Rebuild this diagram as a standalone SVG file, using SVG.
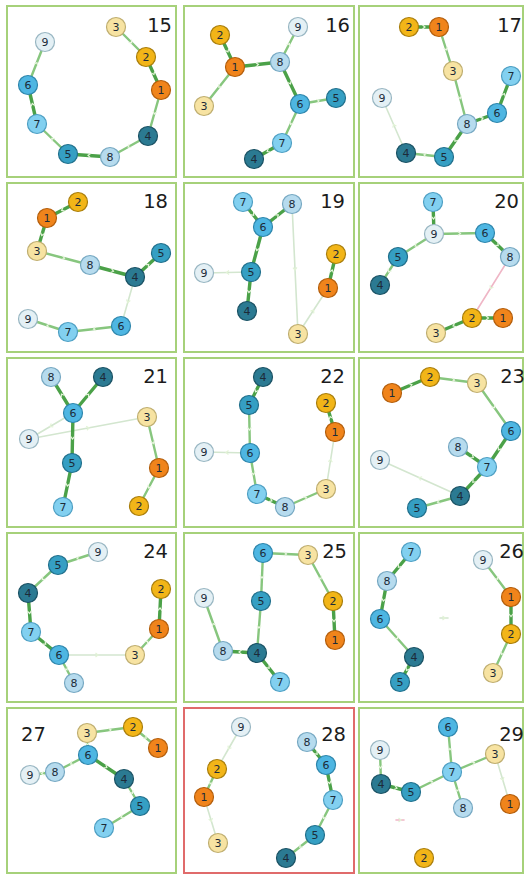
<svg xmlns="http://www.w3.org/2000/svg" width="526" height="875" viewBox="0 0 526 875">
<defs>
<style>
.panel{fill:#ffffff;stroke:#a6d17a;stroke-width:2}
.panel.bad{stroke:#e06b6b}
.num{font-family:"DejaVu Sans","Liberation Sans",sans-serif;font-size:19.5px;fill:#1c1c1c;text-anchor:end}
.num.l{text-anchor:start}
polyline{fill:none;stroke-linecap:round;marker-mid:url(#ch)}
.t{stroke:#3c9a39;stroke-width:3.4;opacity:.92}
.m{stroke:#6dba62;stroke-width:2.4;opacity:.82}
.f{stroke:#d3e6cf;stroke-width:1.6}
.p{stroke:#efb6c6;stroke-width:1.6}
.n circle{stroke-width:1.2}
.n text{font-family:"DejaVu Sans","Liberation Sans",sans-serif;font-size:11px;fill:#1d2b38;text-anchor:middle}
.c1 circle{fill:#f0841b;stroke:#b35e0c}
.c2 circle{fill:#f2b518;stroke:#a97e0c}
.c3 circle{fill:#f7e3a2;stroke:#bfae70}
.c4 circle{fill:#2b7a92;stroke:#1b5264}
.c5 circle{fill:#359fc3;stroke:#21708c}
.c6 circle{fill:#4eb6e2;stroke:#2e86ac}
.c7 circle{fill:#82d0f0;stroke:#4e9fc3}
.c8 circle{fill:#b6dbee;stroke:#76a8c2}
.c9 circle{fill:#e4f0f5;stroke:#98b6c2}
</style>
<marker id="ch" viewBox="0 0 6 6" refX="3" refY="3" markerWidth="6" markerHeight="6" orient="auto" markerUnits="userSpaceOnUse">
<path d="M1.5,1 L4,3 L1.5,5" fill="none" stroke="#e2f3d6" stroke-width="1.2"/>
</marker>
</defs>

<g id="panels">
<rect class="panel" x="7" y="6" width="169" height="171"/>
<rect class="panel" x="184" y="6" width="170" height="171"/>
<rect class="panel" x="359" y="6" width="164" height="171"/>
<rect class="panel" x="7" y="183" width="169" height="169"/>
<rect class="panel" x="184" y="183" width="170" height="169"/>
<rect class="panel" x="359" y="183" width="164" height="169"/>
<rect class="panel" x="7" y="358" width="169" height="169"/>
<rect class="panel" x="184" y="358" width="170" height="169"/>
<rect class="panel" x="359" y="358" width="164" height="169"/>
<rect class="panel" x="7" y="533" width="169" height="169"/>
<rect class="panel" x="184" y="533" width="170" height="169"/>
<rect class="panel" x="359" y="533" width="164" height="169"/>
<rect class="panel" x="7" y="708" width="169" height="165"/>
<rect class="panel bad" x="184" y="708" width="170" height="165"/>
<rect class="panel" x="359" y="708" width="164" height="165"/>
</g>

<g id="labels">
<text class="num" x="172" y="32">15</text>
<text class="num" x="350" y="32">16</text>
<text class="num" x="522" y="32">17</text>
<text class="num" x="168" y="208">18</text>
<text class="num" x="345" y="208">19</text>
<text class="num" x="519" y="208">20</text>
<text class="num" x="168" y="383">21</text>
<text class="num" x="345" y="383">22</text>
<text class="num" x="525" y="383">23</text>
<text class="num" x="168" y="558">24</text>
<text class="num" x="347" y="558">25</text>
<text class="num" x="524" y="558">26</text>
<text class="num l" x="21" y="741">27</text>
<text class="num" x="346" y="741">28</text>
<text class="num" x="524" y="741">29</text>
</g>

<g id="connectors">
<g id="edges-15">
<polyline class="m" points="116,27 131,42 146,57"/>
<polyline class="t" points="146,57 153.5,73.5 161,90"/>
<polyline class="m" points="161,90 154.5,113 148,136"/>
<polyline class="m" points="148,136 129,146.5 110,157"/>
<polyline class="t" points="110,157 89,155.5 68,154"/>
<polyline class="m" points="68,154 52.5,139 37,124"/>
<polyline class="t" points="37,124 32.5,104.5 28,85"/>
<polyline class="m" points="28,85 36.5,63.5 45,42"/>
</g>
<g id="edges-16">
<polyline class="t" points="220,35 227.5,51 235,67"/>
<polyline class="m" points="235,67 219.5,86.5 204,106"/>
<polyline class="t" points="235,67 257.5,64.5 280,62"/>
<polyline class="m" points="280,62 289,44.5 298,27"/>
<polyline class="t" points="280,62 290,83 300,104"/>
<polyline class="m" points="300,104 318,101 336,98"/>
<polyline class="m" points="300,104 291,123.5 282,143"/>
<polyline class="t" points="282,143 268,151 254,159"/>
</g>
<g id="edges-17">
<polyline class="t" points="409,27 424,27 439,27"/>
<polyline class="m" points="439,27 446,49 453,71"/>
<polyline class="m" points="453,71 460,97.5 467,124"/>
<polyline class="t" points="467,124 482,118.5 497,113"/>
<polyline class="t" points="497,113 504,94.5 511,76"/>
<polyline class="t" points="467,124 455.5,140.5 444,157"/>
<polyline class="m" points="444,157 425,155 406,153"/>
<polyline class="f" points="406,153 394,125.5 382,98"/>
</g>
<g id="edges-18">
<polyline class="t" points="78,202 62.5,210 47,218"/>
<polyline class="t" points="47,218 42,234.5 37,251"/>
<polyline class="m" points="37,251 63.5,258 90,265"/>
<polyline class="t" points="90,265 112.5,271 135,277"/>
<polyline class="t" points="135,277 148,265 161,253"/>
<polyline class="f" points="135,277 128,301.5 121,326"/>
<polyline class="m" points="121,326 94.5,329 68,332"/>
<polyline class="m" points="68,332 48,325.5 28,319"/>
</g>
<g id="edges-19">
<polyline class="t" points="243,202 253,214.5 263,227"/>
<polyline class="t" points="263,227 277.5,215.5 292,204"/>
<polyline class="t" points="263,227 257,249.5 251,272"/>
<polyline class="f" points="251,272 227.5,272.5 204,273"/>
<polyline class="t" points="251,272 249,291.5 247,311"/>
<polyline class="f" points="292,204 295,269 298,334"/>
<polyline class="f" points="298,334 313,311 328,288"/>
<polyline class="t" points="328,288 332,271 336,254"/>
</g>
<g id="edges-20">
<polyline class="t" points="433,202 433.5,218 434,234"/>
<polyline class="m" points="434,234 459.5,233.5 485,233"/>
<polyline class="t" points="485,233 497.5,245 510,257"/>
<polyline class="m" points="434,234 416,245.5 398,257"/>
<polyline class="m" points="398,257 389,271 380,285"/>
<polyline class="p" points="510,257 491,287.5 472,318"/>
<polyline class="t" points="472,318 487.5,318 503,318"/>
<polyline class="t" points="472,318 454,325.5 436,333"/>
</g>
<g id="edges-21">
<polyline class="t" points="73,413 62,395 51,377"/>
<polyline class="t" points="73,413 88,395 103,377"/>
<polyline class="f" points="73,413 51,426 29,439"/>
<polyline class="f" points="29,439 88,428 147,417"/>
<polyline class="t" points="73,413 72.5,438 72,463"/>
<polyline class="t" points="72,463 67.5,485 63,507"/>
<polyline class="m" points="147,417 153,442.5 159,468"/>
<polyline class="m" points="159,468 149,487 139,506"/>
</g>
<g id="edges-22">
<polyline class="t" points="263,377 256,391 249,405"/>
<polyline class="m" points="249,405 249.5,429 250,453"/>
<polyline class="f" points="250,453 227,452.5 204,452"/>
<polyline class="m" points="250,453 253.5,473.5 257,494"/>
<polyline class="t" points="257,494 271,500.5 285,507"/>
<polyline class="m" points="285,507 305.5,498 326,489"/>
<polyline class="f" points="326,489 330.5,460.5 335,432"/>
<polyline class="t" points="335,432 330.5,417.5 326,403"/>
</g>
<g id="edges-23">
<polyline class="t" points="392,393 411,385 430,377"/>
<polyline class="m" points="430,377 453.5,380 477,383"/>
<polyline class="m" points="477,383 494,407 511,431"/>
<polyline class="t" points="511,431 499,449 487,467"/>
<polyline class="t" points="458,447 472.5,457 487,467"/>
<polyline class="t" points="487,467 473.5,481.5 460,496"/>
<polyline class="m" points="460,496 438.5,502 417,508"/>
<polyline class="f" points="460,496 420,478 380,460"/>
</g>
<g id="edges-24">
<polyline class="m" points="98,552 78,558.5 58,565"/>
<polyline class="m" points="58,565 43,579 28,593"/>
<polyline class="t" points="28,593 29.5,612.5 31,632"/>
<polyline class="t" points="31,632 45,643.5 59,655"/>
<polyline class="m" points="59,655 66.5,669 74,683"/>
<polyline class="f" points="59,655 97,655 135,655"/>
<polyline class="m" points="135,655 147,642 159,629"/>
<polyline class="t" points="159,629 160,609 161,589"/>
</g>
<g id="edges-25">
<polyline class="m" points="263,553 285.5,554 308,555"/>
<polyline class="m" points="308,555 320.5,578 333,601"/>
<polyline class="t" points="333,601 334,620.5 335,640"/>
<polyline class="m" points="263,553 262,577 261,601"/>
<polyline class="m" points="261,601 259,627 257,653"/>
<polyline class="t" points="257,653 240,652 223,651"/>
<polyline class="m" points="223,651 213.5,624.5 204,598"/>
<polyline class="t" points="257,653 268.5,667.5 280,682"/>
</g>
<g id="edges-26">
<polyline class="t" points="411,552 399,566.5 387,581"/>
<polyline class="t" points="387,581 383.5,600 380,619"/>
<polyline class="m" points="380,619 397,638 414,657"/>
<polyline class="t" points="414,657 407,669.5 400,682"/>
<polyline class="m" points="483,560 497,578.5 511,597"/>
<polyline class="t" points="511,597 511,615.5 511,634"/>
<polyline class="m" points="511,634 502,653.5 493,673"/>
<polyline class="f" points="440,618 444,618 448,618"/>
</g>
<g id="edges-27">
<polyline class="m" points="87,733 110,730 133,727"/>
<polyline class="m" points="133,727 145.5,737.5 158,748"/>
<polyline class="m" points="87,733 87.5,744 88,755"/>
<polyline class="m" points="88,755 71.5,763.5 55,772"/>
<polyline class="m" points="55,772 42.5,773.5 30,775"/>
<polyline class="t" points="88,755 106,767 124,779"/>
<polyline class="m" points="124,779 132,792.5 140,806"/>
<polyline class="m" points="140,806 122,817 104,828"/>
</g>
<g id="edges-28">
<polyline class="f" points="241,727 229,748 217,769"/>
<polyline class="m" points="217,769 210.5,783 204,797"/>
<polyline class="f" points="204,797 211,820 218,843"/>
<polyline class="t" points="307,742 316.5,753.5 326,765"/>
<polyline class="t" points="326,765 329.5,782.5 333,800"/>
<polyline class="m" points="333,800 324,817.5 315,835"/>
<polyline class="m" points="315,835 300.5,846.5 286,858"/>
</g>
<g id="edges-29">
<polyline class="m" points="380,750 380.5,767 381,784"/>
<polyline class="t" points="381,784 396,788 411,792"/>
<polyline class="m" points="411,792 431.5,782 452,772"/>
<polyline class="m" points="452,772 450,749.5 448,727"/>
<polyline class="m" points="452,772 457.5,790 463,808"/>
<polyline class="m" points="452,772 473.5,763 495,754"/>
<polyline class="f" points="495,754 502.5,779 510,804"/>
<polyline class="p" points="396,820 400,820 404,820"/>
</g>
</g>

<g id="nodes">
<g id="g15">
<g id="n15-1" class="n c1"><circle cx="161" cy="90" r="9.5"/><text x="161" y="94">1</text></g>
<g id="n15-2" class="n c2"><circle cx="146" cy="57" r="9.5"/><text x="146" y="61">2</text></g>
<g id="n15-3" class="n c3"><circle cx="116" cy="27" r="9.5"/><text x="116" y="31">3</text></g>
<g id="n15-4" class="n c4"><circle cx="148" cy="136" r="9.5"/><text x="148" y="140">4</text></g>
<g id="n15-5" class="n c5"><circle cx="68" cy="154" r="9.5"/><text x="68" y="158">5</text></g>
<g id="n15-6" class="n c6"><circle cx="28" cy="85" r="9.5"/><text x="28" y="89">6</text></g>
<g id="n15-7" class="n c7"><circle cx="37" cy="124" r="9.5"/><text x="37" y="128">7</text></g>
<g id="n15-8" class="n c8"><circle cx="110" cy="157" r="9.5"/><text x="110" y="161">8</text></g>
<g id="n15-9" class="n c9"><circle cx="45" cy="42" r="9.5"/><text x="45" y="46">9</text></g>
</g>
<g id="g16">
<g id="n16-1" class="n c1"><circle cx="235" cy="67" r="9.5"/><text x="235" y="71">1</text></g>
<g id="n16-2" class="n c2"><circle cx="220" cy="35" r="9.5"/><text x="220" y="39">2</text></g>
<g id="n16-3" class="n c3"><circle cx="204" cy="106" r="9.5"/><text x="204" y="110">3</text></g>
<g id="n16-4" class="n c4"><circle cx="254" cy="159" r="9.5"/><text x="254" y="163">4</text></g>
<g id="n16-5" class="n c5"><circle cx="336" cy="98" r="9.5"/><text x="336" y="102">5</text></g>
<g id="n16-6" class="n c6"><circle cx="300" cy="104" r="9.5"/><text x="300" y="108">6</text></g>
<g id="n16-7" class="n c7"><circle cx="282" cy="143" r="9.5"/><text x="282" y="147">7</text></g>
<g id="n16-8" class="n c8"><circle cx="280" cy="62" r="9.5"/><text x="280" y="66">8</text></g>
<g id="n16-9" class="n c9"><circle cx="298" cy="27" r="9.5"/><text x="298" y="31">9</text></g>
</g>
<g id="g17">
<g id="n17-1" class="n c1"><circle cx="439" cy="27" r="9.5"/><text x="439" y="31">1</text></g>
<g id="n17-2" class="n c2"><circle cx="409" cy="27" r="9.5"/><text x="409" y="31">2</text></g>
<g id="n17-3" class="n c3"><circle cx="453" cy="71" r="9.5"/><text x="453" y="75">3</text></g>
<g id="n17-4" class="n c4"><circle cx="406" cy="153" r="9.5"/><text x="406" y="157">4</text></g>
<g id="n17-5" class="n c5"><circle cx="444" cy="157" r="9.5"/><text x="444" y="161">5</text></g>
<g id="n17-6" class="n c6"><circle cx="497" cy="113" r="9.5"/><text x="497" y="117">6</text></g>
<g id="n17-7" class="n c7"><circle cx="511" cy="76" r="9.5"/><text x="511" y="80">7</text></g>
<g id="n17-8" class="n c8"><circle cx="467" cy="124" r="9.5"/><text x="467" y="128">8</text></g>
<g id="n17-9" class="n c9"><circle cx="382" cy="98" r="9.5"/><text x="382" y="102">9</text></g>
</g>
<g id="g18">
<g id="n18-1" class="n c1"><circle cx="47" cy="218" r="9.5"/><text x="47" y="222">1</text></g>
<g id="n18-2" class="n c2"><circle cx="78" cy="202" r="9.5"/><text x="78" y="206">2</text></g>
<g id="n18-3" class="n c3"><circle cx="37" cy="251" r="9.5"/><text x="37" y="255">3</text></g>
<g id="n18-4" class="n c4"><circle cx="135" cy="277" r="9.5"/><text x="135" y="281">4</text></g>
<g id="n18-5" class="n c5"><circle cx="161" cy="253" r="9.5"/><text x="161" y="257">5</text></g>
<g id="n18-6" class="n c6"><circle cx="121" cy="326" r="9.5"/><text x="121" y="330">6</text></g>
<g id="n18-7" class="n c7"><circle cx="68" cy="332" r="9.5"/><text x="68" y="336">7</text></g>
<g id="n18-8" class="n c8"><circle cx="90" cy="265" r="9.5"/><text x="90" y="269">8</text></g>
<g id="n18-9" class="n c9"><circle cx="28" cy="319" r="9.5"/><text x="28" y="323">9</text></g>
</g>
<g id="g19">
<g id="n19-1" class="n c1"><circle cx="328" cy="288" r="9.5"/><text x="328" y="292">1</text></g>
<g id="n19-2" class="n c2"><circle cx="336" cy="254" r="9.5"/><text x="336" y="258">2</text></g>
<g id="n19-3" class="n c3"><circle cx="298" cy="334" r="9.5"/><text x="298" y="338">3</text></g>
<g id="n19-4" class="n c4"><circle cx="247" cy="311" r="9.5"/><text x="247" y="315">4</text></g>
<g id="n19-5" class="n c5"><circle cx="251" cy="272" r="9.5"/><text x="251" y="276">5</text></g>
<g id="n19-6" class="n c6"><circle cx="263" cy="227" r="9.5"/><text x="263" y="231">6</text></g>
<g id="n19-7" class="n c7"><circle cx="243" cy="202" r="9.5"/><text x="243" y="206">7</text></g>
<g id="n19-8" class="n c8"><circle cx="292" cy="204" r="9.5"/><text x="292" y="208">8</text></g>
<g id="n19-9" class="n c9"><circle cx="204" cy="273" r="9.5"/><text x="204" y="277">9</text></g>
</g>
<g id="g20">
<g id="n20-1" class="n c1"><circle cx="503" cy="318" r="9.5"/><text x="503" y="322">1</text></g>
<g id="n20-2" class="n c2"><circle cx="472" cy="318" r="9.5"/><text x="472" y="322">2</text></g>
<g id="n20-3" class="n c3"><circle cx="436" cy="333" r="9.5"/><text x="436" y="337">3</text></g>
<g id="n20-4" class="n c4"><circle cx="380" cy="285" r="9.5"/><text x="380" y="289">4</text></g>
<g id="n20-5" class="n c5"><circle cx="398" cy="257" r="9.5"/><text x="398" y="261">5</text></g>
<g id="n20-6" class="n c6"><circle cx="485" cy="233" r="9.5"/><text x="485" y="237">6</text></g>
<g id="n20-7" class="n c7"><circle cx="433" cy="202" r="9.5"/><text x="433" y="206">7</text></g>
<g id="n20-8" class="n c8"><circle cx="510" cy="257" r="9.5"/><text x="510" y="261">8</text></g>
<g id="n20-9" class="n c9"><circle cx="434" cy="234" r="9.5"/><text x="434" y="238">9</text></g>
</g>
<g id="g21">
<g id="n21-1" class="n c1"><circle cx="159" cy="468" r="9.5"/><text x="159" y="472">1</text></g>
<g id="n21-2" class="n c2"><circle cx="139" cy="506" r="9.5"/><text x="139" y="510">2</text></g>
<g id="n21-3" class="n c3"><circle cx="147" cy="417" r="9.5"/><text x="147" y="421">3</text></g>
<g id="n21-4" class="n c4"><circle cx="103" cy="377" r="9.5"/><text x="103" y="381">4</text></g>
<g id="n21-5" class="n c5"><circle cx="72" cy="463" r="9.5"/><text x="72" y="467">5</text></g>
<g id="n21-6" class="n c6"><circle cx="73" cy="413" r="9.5"/><text x="73" y="417">6</text></g>
<g id="n21-7" class="n c7"><circle cx="63" cy="507" r="9.5"/><text x="63" y="511">7</text></g>
<g id="n21-8" class="n c8"><circle cx="51" cy="377" r="9.5"/><text x="51" y="381">8</text></g>
<g id="n21-9" class="n c9"><circle cx="29" cy="439" r="9.5"/><text x="29" y="443">9</text></g>
</g>
<g id="g22">
<g id="n22-1" class="n c1"><circle cx="335" cy="432" r="9.5"/><text x="335" y="436">1</text></g>
<g id="n22-2" class="n c2"><circle cx="326" cy="403" r="9.5"/><text x="326" y="407">2</text></g>
<g id="n22-3" class="n c3"><circle cx="326" cy="489" r="9.5"/><text x="326" y="493">3</text></g>
<g id="n22-4" class="n c4"><circle cx="263" cy="377" r="9.5"/><text x="263" y="381">4</text></g>
<g id="n22-5" class="n c5"><circle cx="249" cy="405" r="9.5"/><text x="249" y="409">5</text></g>
<g id="n22-6" class="n c6"><circle cx="250" cy="453" r="9.5"/><text x="250" y="457">6</text></g>
<g id="n22-7" class="n c7"><circle cx="257" cy="494" r="9.5"/><text x="257" y="498">7</text></g>
<g id="n22-8" class="n c8"><circle cx="285" cy="507" r="9.5"/><text x="285" y="511">8</text></g>
<g id="n22-9" class="n c9"><circle cx="204" cy="452" r="9.5"/><text x="204" y="456">9</text></g>
</g>
<g id="g23">
<g id="n23-1" class="n c1"><circle cx="392" cy="393" r="9.5"/><text x="392" y="397">1</text></g>
<g id="n23-2" class="n c2"><circle cx="430" cy="377" r="9.5"/><text x="430" y="381">2</text></g>
<g id="n23-3" class="n c3"><circle cx="477" cy="383" r="9.5"/><text x="477" y="387">3</text></g>
<g id="n23-4" class="n c4"><circle cx="460" cy="496" r="9.5"/><text x="460" y="500">4</text></g>
<g id="n23-5" class="n c5"><circle cx="417" cy="508" r="9.5"/><text x="417" y="512">5</text></g>
<g id="n23-6" class="n c6"><circle cx="511" cy="431" r="9.5"/><text x="511" y="435">6</text></g>
<g id="n23-7" class="n c7"><circle cx="487" cy="467" r="9.5"/><text x="487" y="471">7</text></g>
<g id="n23-8" class="n c8"><circle cx="458" cy="447" r="9.5"/><text x="458" y="451">8</text></g>
<g id="n23-9" class="n c9"><circle cx="380" cy="460" r="9.5"/><text x="380" y="464">9</text></g>
</g>
<g id="g24">
<g id="n24-1" class="n c1"><circle cx="159" cy="629" r="9.5"/><text x="159" y="633">1</text></g>
<g id="n24-2" class="n c2"><circle cx="161" cy="589" r="9.5"/><text x="161" y="593">2</text></g>
<g id="n24-3" class="n c3"><circle cx="135" cy="655" r="9.5"/><text x="135" y="659">3</text></g>
<g id="n24-4" class="n c4"><circle cx="28" cy="593" r="9.5"/><text x="28" y="597">4</text></g>
<g id="n24-5" class="n c5"><circle cx="58" cy="565" r="9.5"/><text x="58" y="569">5</text></g>
<g id="n24-6" class="n c6"><circle cx="59" cy="655" r="9.5"/><text x="59" y="659">6</text></g>
<g id="n24-7" class="n c7"><circle cx="31" cy="632" r="9.5"/><text x="31" y="636">7</text></g>
<g id="n24-8" class="n c8"><circle cx="74" cy="683" r="9.5"/><text x="74" y="687">8</text></g>
<g id="n24-9" class="n c9"><circle cx="98" cy="552" r="9.5"/><text x="98" y="556">9</text></g>
</g>
<g id="g25">
<g id="n25-1" class="n c1"><circle cx="335" cy="640" r="9.5"/><text x="335" y="644">1</text></g>
<g id="n25-2" class="n c2"><circle cx="333" cy="601" r="9.5"/><text x="333" y="605">2</text></g>
<g id="n25-3" class="n c3"><circle cx="308" cy="555" r="9.5"/><text x="308" y="559">3</text></g>
<g id="n25-4" class="n c4"><circle cx="257" cy="653" r="9.5"/><text x="257" y="657">4</text></g>
<g id="n25-5" class="n c5"><circle cx="261" cy="601" r="9.5"/><text x="261" y="605">5</text></g>
<g id="n25-6" class="n c6"><circle cx="263" cy="553" r="9.5"/><text x="263" y="557">6</text></g>
<g id="n25-7" class="n c7"><circle cx="280" cy="682" r="9.5"/><text x="280" y="686">7</text></g>
<g id="n25-8" class="n c8"><circle cx="223" cy="651" r="9.5"/><text x="223" y="655">8</text></g>
<g id="n25-9" class="n c9"><circle cx="204" cy="598" r="9.5"/><text x="204" y="602">9</text></g>
</g>
<g id="g26">
<g id="n26-1" class="n c1"><circle cx="511" cy="597" r="9.5"/><text x="511" y="601">1</text></g>
<g id="n26-2" class="n c2"><circle cx="511" cy="634" r="9.5"/><text x="511" y="638">2</text></g>
<g id="n26-3" class="n c3"><circle cx="493" cy="673" r="9.5"/><text x="493" y="677">3</text></g>
<g id="n26-4" class="n c4"><circle cx="414" cy="657" r="9.5"/><text x="414" y="661">4</text></g>
<g id="n26-5" class="n c5"><circle cx="400" cy="682" r="9.5"/><text x="400" y="686">5</text></g>
<g id="n26-6" class="n c6"><circle cx="380" cy="619" r="9.5"/><text x="380" y="623">6</text></g>
<g id="n26-7" class="n c7"><circle cx="411" cy="552" r="9.5"/><text x="411" y="556">7</text></g>
<g id="n26-8" class="n c8"><circle cx="387" cy="581" r="9.5"/><text x="387" y="585">8</text></g>
<g id="n26-9" class="n c9"><circle cx="483" cy="560" r="9.5"/><text x="483" y="564">9</text></g>
</g>
<g id="g27">
<g id="n27-1" class="n c1"><circle cx="158" cy="748" r="9.5"/><text x="158" y="752">1</text></g>
<g id="n27-2" class="n c2"><circle cx="133" cy="727" r="9.5"/><text x="133" y="731">2</text></g>
<g id="n27-3" class="n c3"><circle cx="87" cy="733" r="9.5"/><text x="87" y="737">3</text></g>
<g id="n27-4" class="n c4"><circle cx="124" cy="779" r="9.5"/><text x="124" y="783">4</text></g>
<g id="n27-5" class="n c5"><circle cx="140" cy="806" r="9.5"/><text x="140" y="810">5</text></g>
<g id="n27-6" class="n c6"><circle cx="88" cy="755" r="9.5"/><text x="88" y="759">6</text></g>
<g id="n27-7" class="n c7"><circle cx="104" cy="828" r="9.5"/><text x="104" y="832">7</text></g>
<g id="n27-8" class="n c8"><circle cx="55" cy="772" r="9.5"/><text x="55" y="776">8</text></g>
<g id="n27-9" class="n c9"><circle cx="30" cy="775" r="9.5"/><text x="30" y="779">9</text></g>
</g>
<g id="g28">
<g id="n28-1" class="n c1"><circle cx="204" cy="797" r="9.5"/><text x="204" y="801">1</text></g>
<g id="n28-2" class="n c2"><circle cx="217" cy="769" r="9.5"/><text x="217" y="773">2</text></g>
<g id="n28-3" class="n c3"><circle cx="218" cy="843" r="9.5"/><text x="218" y="847">3</text></g>
<g id="n28-4" class="n c4"><circle cx="286" cy="858" r="9.5"/><text x="286" y="862">4</text></g>
<g id="n28-5" class="n c5"><circle cx="315" cy="835" r="9.5"/><text x="315" y="839">5</text></g>
<g id="n28-6" class="n c6"><circle cx="326" cy="765" r="9.5"/><text x="326" y="769">6</text></g>
<g id="n28-7" class="n c7"><circle cx="333" cy="800" r="9.5"/><text x="333" y="804">7</text></g>
<g id="n28-8" class="n c8"><circle cx="307" cy="742" r="9.5"/><text x="307" y="746">8</text></g>
<g id="n28-9" class="n c9"><circle cx="241" cy="727" r="9.5"/><text x="241" y="731">9</text></g>
</g>
<g id="g29">
<g id="n29-1" class="n c1"><circle cx="510" cy="804" r="9.5"/><text x="510" y="808">1</text></g>
<g id="n29-2" class="n c2"><circle cx="424" cy="858" r="9.5"/><text x="424" y="862">2</text></g>
<g id="n29-3" class="n c3"><circle cx="495" cy="754" r="9.5"/><text x="495" y="758">3</text></g>
<g id="n29-4" class="n c4"><circle cx="381" cy="784" r="9.5"/><text x="381" y="788">4</text></g>
<g id="n29-5" class="n c5"><circle cx="411" cy="792" r="9.5"/><text x="411" y="796">5</text></g>
<g id="n29-6" class="n c6"><circle cx="448" cy="727" r="9.5"/><text x="448" y="731">6</text></g>
<g id="n29-7" class="n c7"><circle cx="452" cy="772" r="9.5"/><text x="452" y="776">7</text></g>
<g id="n29-8" class="n c8"><circle cx="463" cy="808" r="9.5"/><text x="463" y="812">8</text></g>
<g id="n29-9" class="n c9"><circle cx="380" cy="750" r="9.5"/><text x="380" y="754">9</text></g>
</g>
</g>
</svg>
